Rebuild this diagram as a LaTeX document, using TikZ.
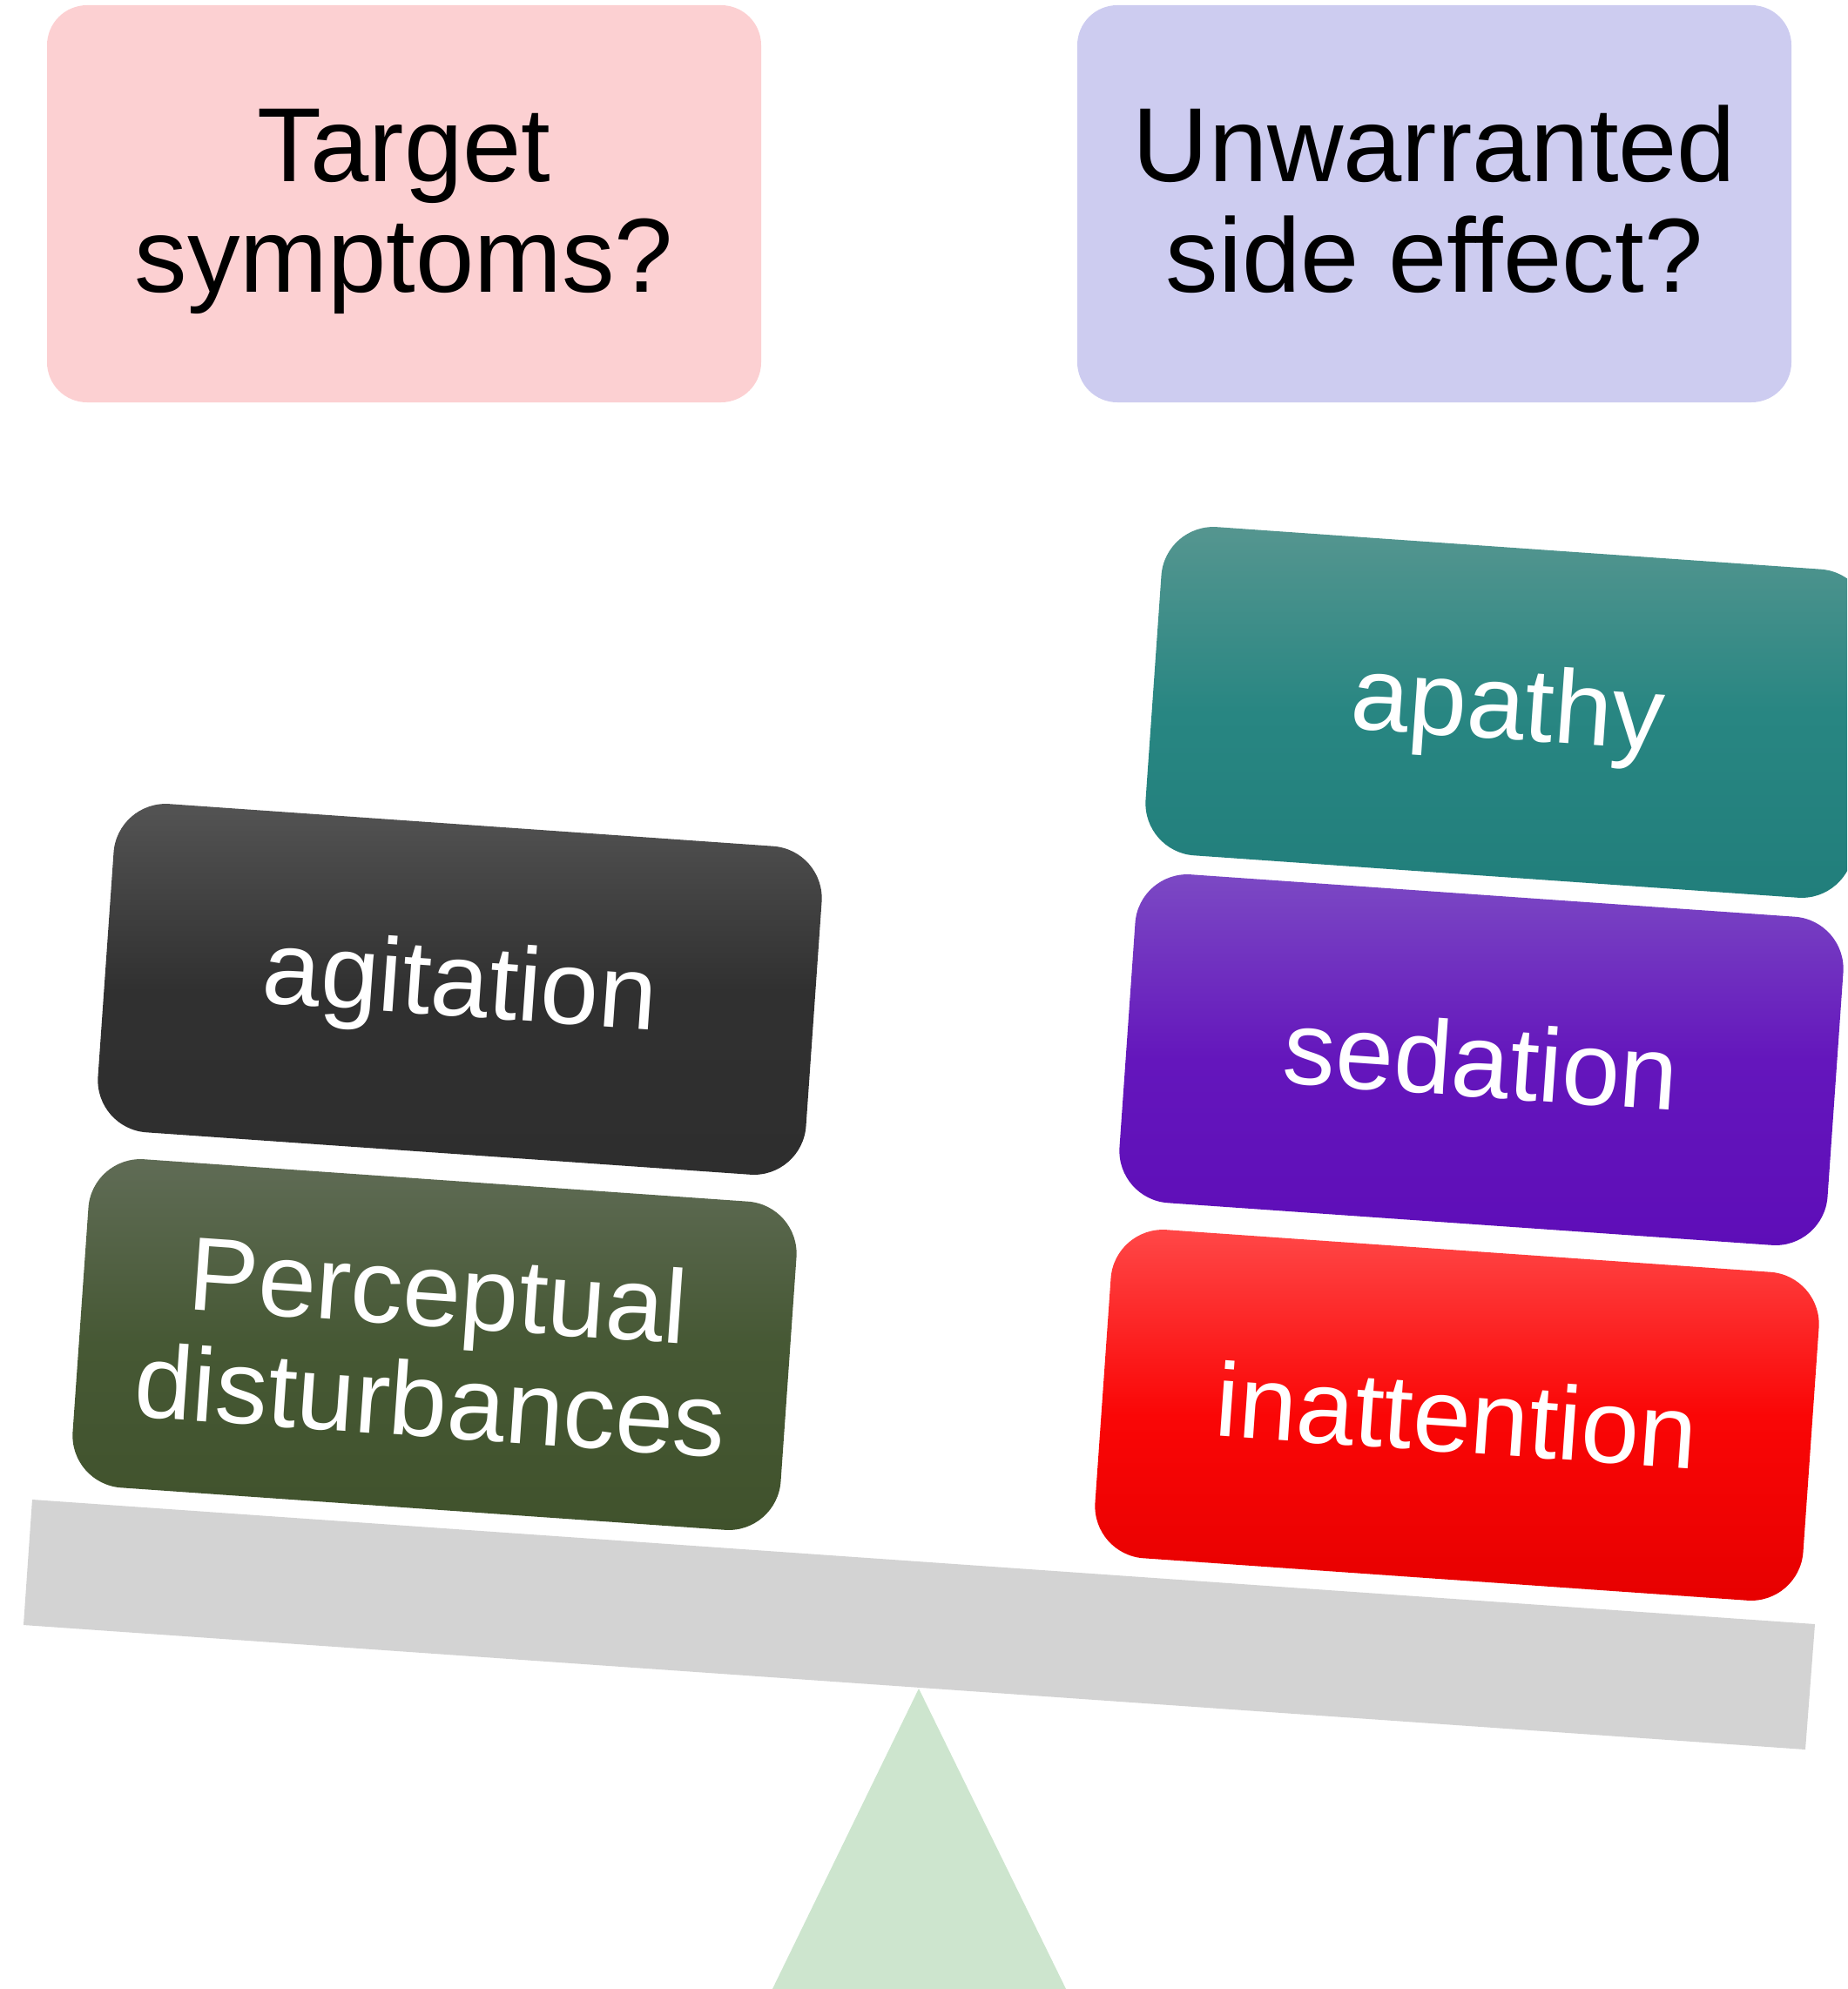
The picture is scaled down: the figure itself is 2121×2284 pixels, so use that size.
\documentclass[tikz,border=0pt]{standalone}
\usepackage{fontspec}
\setmainfont{Liberation Sans}
\definecolor{pinkbg}{HTML}{FCD0D2}
\definecolor{lavbg}{HTML}{CDCCF0}
\definecolor{beamgray}{HTML}{D3D3D3}
\definecolor{fulcrumgreen}{HTML}{CDE5CE}
\begin{document}
\begin{tikzpicture}[x=0.5pt,y=-0.5pt,
  topbox/.style={rectangle, rounded corners=23pt, minimum width=410pt, minimum height=228pt,
    inner sep=0pt},
  toptext/.style={inner sep=0pt, align=center, text=black, font=\fontsize{60.5}{63.5}\selectfont},
  tilebox/.style={rectangle, rounded corners=30pt, minimum width=407.5pt, minimum height=189pt,
    inner sep=0pt, rotate=-4, align=center, text=white, font=\fontsize{60}{63.5}\selectfont},
]
\useasboundingbox (0,0) rectangle (2121,2284);
\clip (0,0) rectangle (2121,2284);

% top question boxes
\node[topbox, fill=pinkbg] (target) at (464,234) {};
\node[toptext] (targettext) at (464,247) {\strut Target\\\strut symptoms?};
\node[topbox, fill=lavbg] (unwarranted) at (1647,234) {};
\node[toptext] (unwarrantedtext) at (1647,247) {\strut Unwarranted\\\strut side effect?};

% fulcrum and beam
\fill[fulcrumgreen] (1055,1939) -- (1227,2290) -- (884,2290) -- cycle;
\fill[beamgray] (37,1722) -- (2084,1865) -- (2073,2009) -- (27,1866) -- cycle;

% left stack
\node[tilebox, top color=black!67, bottom color=black!82, middle color=black!81] (agitation) at (528,1136) {agitation};
\node[tilebox, top color={rgb,255:red,96;green,108;blue,86}, bottom color={rgb,255:red,64;green,82;blue,44}, middle color={rgb,255:red,70;green,88;blue,52}] (perceptual) at (499,1544) {Perceptual\\disturbances};

% right stack
\node[tilebox, top color={rgb,255:red,86;green,150;blue,144}, bottom color={rgb,255:red,33;green,126;blue,123}, middle color={rgb,255:red,40;green,134;blue,130}] (apathy) at (1731,818) {apathy};
\node[tilebox, top color={rgb,255:red,124;green,74;blue,196}, bottom color={rgb,255:red,94;green,13;blue,184}, middle color={rgb,255:red,100;green,22;blue,188}] (sedation) at (1701,1217) {sedation};
\node[tilebox, top color={rgb,255:red,255;green,72;blue,72}, bottom color={rgb,255:red,230;green,0;blue,0}, middle color={rgb,255:red,250;green,6;blue,6}] (inattention) at (1673,1625) {inattention};
\end{tikzpicture}
\end{document}
